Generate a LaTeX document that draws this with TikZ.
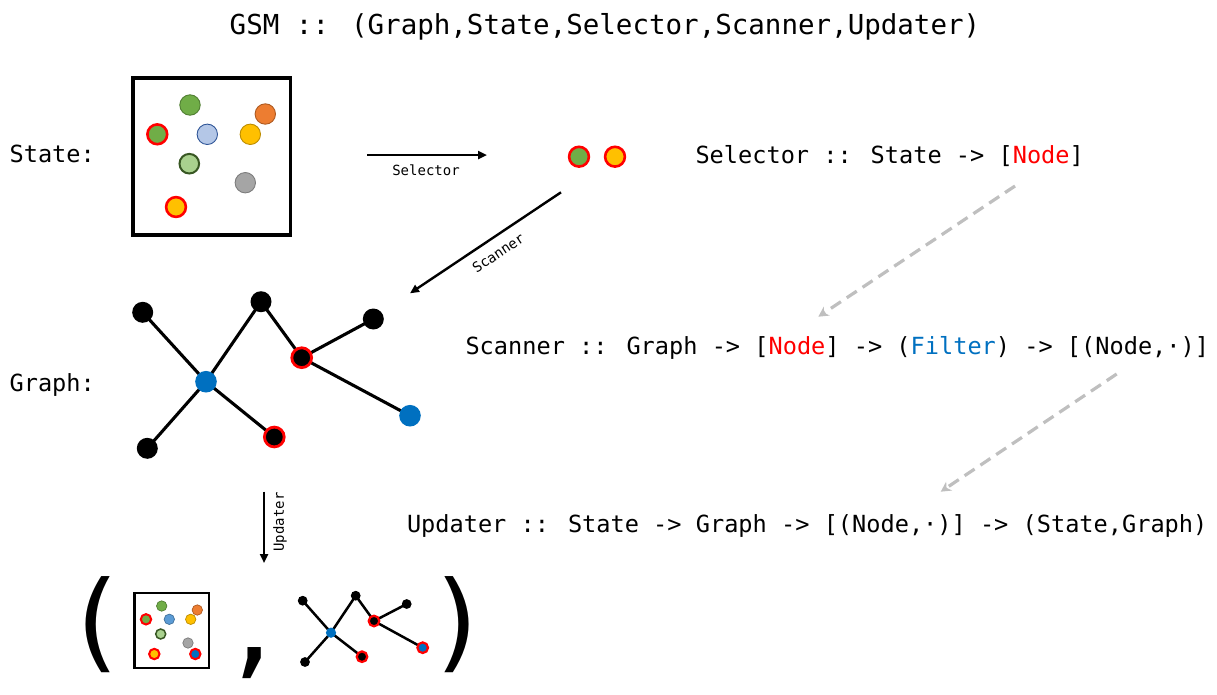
\documentclass[tikz,border=0pt]{standalone}
\usepackage{fontspec}
\newfontfamily\codefont{DejaVu Sans Mono}
\usetikzlibrary{arrows.meta,backgrounds}
\definecolor{nodered}{HTML}{FF0000}
\definecolor{nodeblue}{HTML}{0070C0}
\definecolor{sgreen}{HTML}{70AD47}
\definecolor{sgreenD}{HTML}{507E32}
\definecolor{sorange}{HTML}{ED7D31}
\definecolor{sorangeD}{HTML}{AE5A21}
\definecolor{slblue}{HTML}{B4C7E7}
\definecolor{slblueD}{HTML}{2F5597}
\definecolor{smblue}{HTML}{5B9BD5}
\definecolor{smblueD}{HTML}{41719C}
\definecolor{syellow}{HTML}{FFC000}
\definecolor{syellowD}{HTML}{BC8C00}
\definecolor{slgreen}{HTML}{A9D18E}
\definecolor{slgreenD}{HTML}{385723}
\definecolor{sgray}{HTML}{A5A5A5}
\definecolor{sgrayD}{HTML}{7C7C7C}
\definecolor{dashgray}{HTML}{BFBFBF}
\tikzset{
  codetxt/.style={inner sep=0pt, outer sep=0pt, font=\codefont\fontsize{23.6}{28}\selectfont},
  titletxt/.style={inner sep=0pt, outer sep=0pt, font=\codefont\fontsize{27.5}{32}\selectfont},
  smalltxt/.style={inner sep=0pt, outer sep=0pt, font=\codefont\fontsize{14}{16}\selectfont},
  bigtxt/.style={inner sep=0pt, outer sep=0pt, font=\codefont\fontsize{108}{108}\selectfont},
  dotbase/.style={circle, inner sep=0pt, outer sep=0pt},
  bigdot/.style 2 args={dotbase, minimum size=20.4pt, line width=0.9pt, fill=#1, draw=#2},
  bigsel/.style={dotbase, minimum size=19.8pt, line width=2.6pt, fill=#1, draw=nodered},
  smdot/.style 2 args={dotbase, minimum size=10.4pt, line width=0.7pt, fill=#1, draw=#2},
  smsel/.style={dotbase, minimum size=10.4pt, line width=2pt, fill=#1, draw=nodered},
  gnode/.style={dotbase, minimum size=21pt, fill=black},
  gblue/.style={dotbase, minimum size=21.6pt, fill=nodeblue},
  gsel/.style={dotbase, minimum size=19.8pt, fill=black, draw=nodered, line width=2.8pt},
  sgnode/.style={dotbase, minimum size=9.8pt, fill=black},
  sgblue/.style={dotbase, minimum size=10.2pt, fill=nodeblue},
  sgsel/.style={dotbase, minimum size=10.6pt, fill=#1, draw=nodered, line width=2.2pt},
  gedge/.style={line width=3.1pt, black},
  sgedge/.style={line width=2.5pt, black},
  flowarrow/.style={line width=2.4pt, -{Triangle[length=9pt,width=8pt]}},
  hintarrow/.style={line width=3.2pt, dashgray, dash pattern=on 12pt off 7pt, -{Stealth[length=10pt,width=10.5pt,inset=3pt]}},
}
\begin{document}
\begin{tikzpicture}[x=1pt,y=-1pt]
\useasboundingbox (0,0) rectangle (1217,694);

% texts
\node[titletxt, anchor=base] (title) at (605,34.5) {GSM :: (Graph,State,Selector,Scanner,Updater)};
\node[codetxt, anchor=base west] (lstate) at (9.6,162.5) {State:};
\node[codetxt, anchor=base west] (lgraph) at (9.6,391.5) {Graph:};
\node[codetxt, anchor=base west] (tsel) at (695.5,163) {Selector :: State -> [\textcolor{nodered}{Node}]};
\node[codetxt, anchor=base west] (tscan) at (465.5,354) {Scanner :: Graph -> [\textcolor{nodered}{Node}] -> (\textcolor{nodeblue}{Filter}) -> [(Node,·)]};
\node[codetxt, anchor=base west] (tupd) at (407,532.5) {Updater :: State -> Graph -> [(Node,·)] -> (State,Graph)};

% big state
\draw[line width=3.4pt] (133,78) rectangle (290.5,235);
\node[bigdot={sgreen}{sgreenD}] (s1) at (190,105) {};
\node[bigdot={sorange}{sorangeD}] (s2) at (265.3,114) {};
\node[bigsel=sgreen] (s3) at (157.3,134.3) {};
\node[bigdot={slblue}{slblueD}] (s4) at (207.3,134.3) {};
\node[bigdot={syellow}{syellowD}] (s5) at (250.3,134.3) {};
\node[bigdot={slgreen}{slgreenD}, line width=2pt, minimum size=19.6pt] (s6) at (189.3,163.7) {};
\node[bigdot={sgray}{sgrayD}] (s7) at (245.3,182.7) {};
\node[bigsel=syellow] (s8) at (176,207) {};

% selected
\node[bigsel=sgreen] (q1) at (579,156.7) {};
\node[bigsel=syellow] (q2) at (615,156.7) {};

% selector arrow
\coordinate (selA) at (367,155);
\coordinate (selB) at (487,155);
\draw[flowarrow] (selA) -- (selB);
\node[smalltxt, anchor=base] (selLbl) at (426,175) {Selector};

% scanner arrow
\coordinate (scanA) at (561,192.3);
\coordinate (scanB) at (410,293.3);
\draw[flowarrow] (scanA) -- (scanB);
\node[smalltxt, rotate=33.8] (scanLbl) at (498.3,253) {Scanner};

% big graph
\node[gnode] (gA) at (142.7,312.3) {};
\node[gnode] (gB) at (261,301.7) {};
\node[gnode] (gC) at (373.3,319) {};
\node[gsel] (gD) at (301.7,357.7) {};
\node[gblue] (gE) at (206,381.7) {};
\node[gblue] (gF) at (410,415.7) {};
\node[gsel] (gG) at (274.3,437) {};
\node[gnode] (gH) at (147.3,448.3) {};
\begin{scope}[on background layer]
\draw[gedge] (gA.center) -- (gE.center);
\draw[gedge] (gE.center) -- (gB.center);
\draw[gedge] (gB.center) -- (gD.center);
\draw[gedge] (gD.center) -- (gC.center);
\draw[gedge] (gD.center) -- (gF.center);
\draw[gedge] (gE.center) -- (gG.center);
\draw[gedge] (gE.center) -- (gH.center);
\end{scope}

% updater arrow
\coordinate (updA) at (264,491.5);
\coordinate (updB) at (264,563);
\draw[flowarrow] (updA) -- (updB);
\node[smalltxt, rotate=90] (updLbl) at (280,522) {Updater};

% dashed hints
\coordinate (h1A) at (1015,186);
\coordinate (h1B) at (818.3,316.7);
\draw[hintarrow] (h1A) -- (h1B);
\coordinate (h2A) at (1116.7,374);
\coordinate (h2B) at (940.7,491.7);
\draw[hintarrow] (h2A) -- (h2B);

% result tuple
\node[bigtxt] (lpar) at (95.8,625) {(};
\node[bigtxt] (rpar) at (459,625) {)};
\node[bigtxt] (comma) at (254,663) {,};

% small state
\draw[line width=2.5pt] (134.5,593) rectangle (209,668);
\node[smdot={sgreen}{sgreenD}] (t1) at (161.7,606) {};
\node[smdot={sorange}{sorangeD}] (t2) at (197.3,610) {};
\node[smsel=sgreen] (t3) at (146,619.3) {};
\node[smdot={smblue}{smblueD}] (t4) at (169.3,619.3) {};
\node[smdot={syellow}{syellowD}] (t5) at (190.7,619.3) {};
\node[smdot={slgreen}{slgreenD}, line width=1.5pt, minimum size=10pt] (t6) at (160.7,634) {};
\node[smdot={sgray}{sgrayD}] (t7) at (188,643) {};
\node[smsel=syellow] (t8) at (154.3,654) {};
\node[smsel=nodeblue] (t9) at (195.3,654) {};

% small graph
\node[sgnode] (ga) at (302.7,600.7) {};
\node[sgnode] (gb) at (355.7,595.7) {};
\node[sgnode] (gc) at (406.7,604) {};
\node[sgsel=black] (gd) at (374,621) {};
\node[sgblue] (ge) at (331,632.7) {};
\node[sgsel=nodeblue] (gf) at (422.7,647.7) {};
\node[sgsel=black] (gg) at (362,656.7) {};
\node[sgnode] (gh) at (305,662) {};
\begin{scope}[on background layer]
\draw[sgedge] (ga.center) -- (ge.center);
\draw[sgedge] (ge.center) -- (gb.center);
\draw[sgedge] (gb.center) -- (gd.center);
\draw[sgedge] (gd.center) -- (gc.center);
\draw[sgedge] (gd.center) -- (gf.center);
\draw[sgedge] (ge.center) -- (gg.center);
\draw[sgedge] (ge.center) -- (gh.center);
\end{scope}
\end{tikzpicture}
\end{document}
